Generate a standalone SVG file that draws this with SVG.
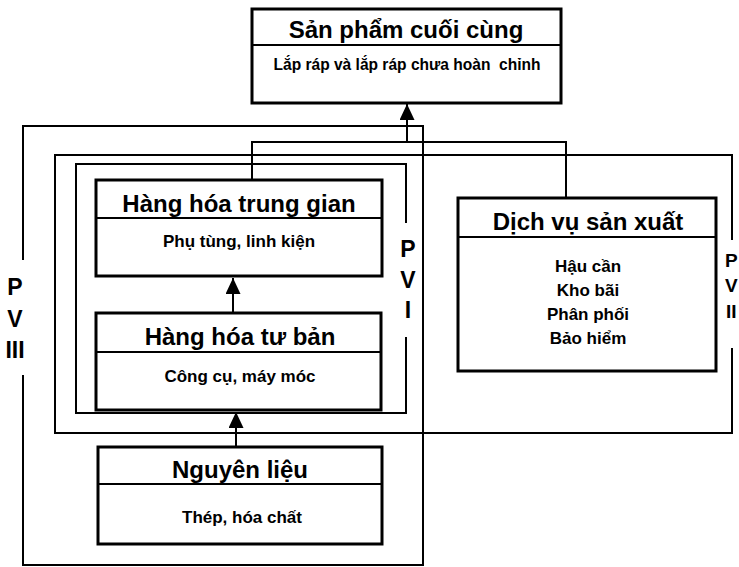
<svg xmlns="http://www.w3.org/2000/svg" width="739" height="567" viewBox="0 0 739 567">
<style>
  .box{fill:#fff;stroke:#000;stroke-width:3}
  .div{stroke:#000;stroke-width:2}
  .frame{fill:none;stroke:#000;stroke-width:2}
  .conn{fill:none;stroke:#000;stroke-width:2}
  text{font-family:"Liberation Sans",Arial,sans-serif;font-weight:bold;fill:#000;text-anchor:middle}
  .t{font-size:24px}
  .s{font-size:17px}
  .lbl{font-size:23px}
  .lbr{font-size:19px;text-anchor:start}
</style>
<defs>
  <marker id="ah" markerUnits="userSpaceOnUse" markerWidth="16" markerHeight="16" refX="16" refY="7.5" orient="auto">
    <path d="M0,0 L16,7.5 L0,15 z" fill="#000"/>
  </marker>
</defs>
<rect width="739" height="567" fill="#fff"/>

<g id="frames">
  <path id="pviii" class="frame" d="M23,260 V126 H423 V565 H23 V375"/>
  <path id="pvii" class="frame" d="M732,240 V155 H55 V433 H732 V348"/>
  <path id="pvi" class="frame" d="M406,223 V164 H76 V413 H406 V337"/>
  <g id="lbl-pviii">
    <text class="lbl" x="15" y="295">P</text>
    <text class="lbl" x="15" y="327">V</text>
    <text class="lbl" x="15" y="358">III</text>
  </g>
  <g id="lbl-pvi">
    <text class="lbl" x="408" y="257">P</text>
    <text class="lbl" x="408" y="288">V</text>
    <text class="lbl" x="408" y="318">I</text>
  </g>
  <g id="lbl-pvii">
    <text class="lbr" x="725" y="267">P</text>
    <text class="lbr" x="725" y="292">V</text>
    <text class="lbr" x="726" y="318">II</text>
  </g>
</g>

<g id="connectors">
  <path class="conn" d="M252,180 V142 H566 V198"/>
  <line class="conn" x1="407" y1="142" x2="407" y2="104" marker-end="url(#ah)"/>
  <line class="conn" x1="233" y1="313" x2="233" y2="278" marker-end="url(#ah)"/>
  <line class="conn" x1="236" y1="447" x2="236" y2="412" marker-end="url(#ah)"/>
</g>

<g id="san-pham-cuoi-cung">
  <rect class="box" x="252" y="9" width="309" height="94"/>
  <line class="div" x1="252" y1="45" x2="561" y2="45"/>
  <text class="t" x="406" y="38">Sản phẩm cuối cùng</text>
  <text class="s" x="407" y="70" xml:space="preserve" textLength="267" lengthAdjust="spacingAndGlyphs">Lắp ráp và lắp ráp chưa hoàn  chỉnh</text>
</g>

<g id="hang-hoa-trung-gian">
  <rect class="box" x="96" y="180" width="286" height="96"/>
  <line class="div" x1="96" y1="218" x2="382" y2="218"/>
  <text class="t" x="239" y="212">Hàng hóa trung gian</text>
  <text class="s" x="239" y="247">Phụ tùng, linh kiện</text>
</g>

<g id="hang-hoa-tu-ban">
  <rect class="box" x="96" y="313" width="285" height="97"/>
  <line class="div" x1="96" y1="352" x2="381" y2="352"/>
  <text class="t" x="240" y="345">Hàng hóa tư bản</text>
  <text class="s" x="240" y="382">Công cụ, máy móc</text>
</g>

<g id="nguyen-lieu">
  <rect class="box" x="98" y="447" width="284" height="97"/>
  <line class="div" x1="98" y1="484" x2="382" y2="484"/>
  <text class="t" x="240" y="478">Nguyên liệu</text>
  <text class="s" x="242" y="523">Thép, hóa chất</text>
</g>

<g id="dich-vu-san-xuat">
  <rect class="box" x="458" y="198" width="258" height="173"/>
  <line class="div" x1="458" y1="237" x2="716" y2="237"/>
  <text class="t" x="588" y="230">Dịch vụ sản xuất</text>
  <text class="s" x="588" y="272">Hậu cần</text>
  <text class="s" x="588" y="296">Kho bãi</text>
  <text class="s" x="588" y="320">Phân phối</text>
  <text class="s" x="588" y="344">Bảo hiểm</text>
</g>
</svg>
